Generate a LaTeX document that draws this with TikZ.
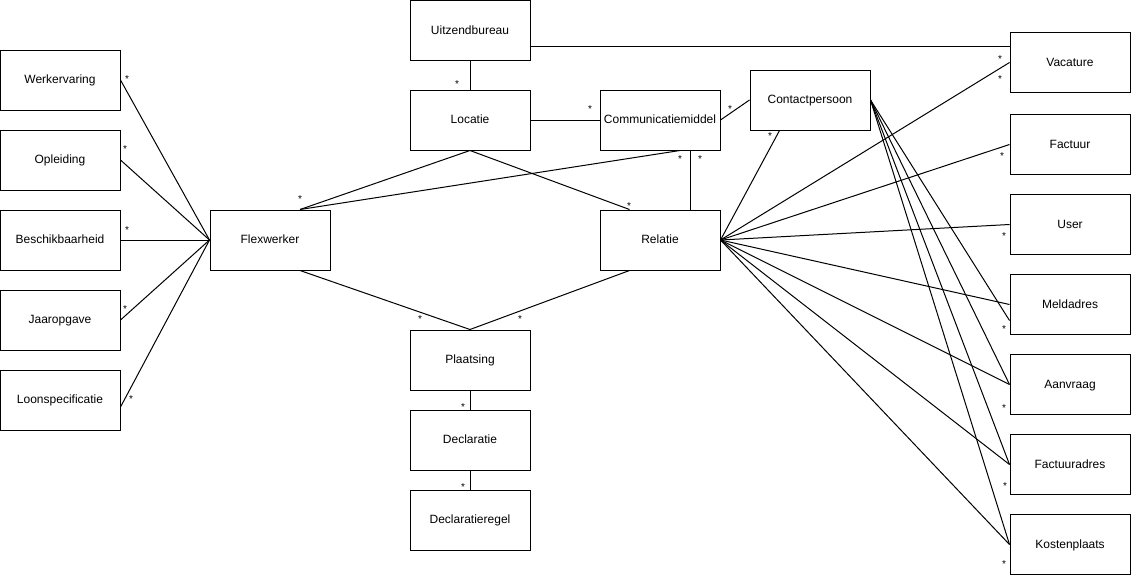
\documentclass[tikz,border=0pt]{standalone}
\usepackage{fontspec}
\setmainfont{Liberation Sans}
\usetikzlibrary{calc}
\begin{document}
\begin{tikzpicture}[x=1pt,y=-1pt,
  box/.style={draw, line width=1pt, minimum width=120pt, minimum height=60pt, inner sep=0pt, text height=10pt, text depth=2.8pt, font=\fontsize{12}{14}\selectfont},
  conn/.style={line width=1pt},
  mult/.style={font=\fontsize{10}{12}\selectfont, inner sep=0pt, yshift=-2pt}]
\useasboundingbox (0,0) rectangle (1131,576);
% left column
\node[box] (werk)  at (60,80)  {Werkervaring};
\node[box] (opl)   at (60,160) {Opleiding};
\node[box] (besch) at (60,240) {Beschikbaarheid};
\node[box] (jaar)  at (60,320) {Jaaropgave};
\node[box] (loon)  at (60,400) {Loonspecificatie};
\node[box] (flex)  at (270,240) {Flexwerker};
% middle
\node[box] (uitz)    at (470,30.5) {Uitzendbureau};
\node[box] (loc)     at (470,120) {Locatie};
\node[box] (comm)    at (660,120) {Communicatiemiddel};
\node[box] (contact) at (810,100) {Contactpersoon};
\node[box] (rel)     at (660,240) {Relatie};
\node[box] (plaats)  at (470,360) {Plaatsing};
\node[box] (decl)    at (470,440) {Declaratie};
\node[box] (declr)   at (470,520) {Declaratieregel};
% right column
\node[box] (vac)     at (1070,62.5)  {Vacature};
\node[box] (fact)    at (1070,144.5) {Factuur};
\node[box] (user)    at (1070,224.5) {User};
\node[box] (meld)    at (1070,304.5) {Meldadres};
\node[box] (aanv)    at (1070,384.5) {Aanvraag};
\node[box] (factadr) at (1070,464.5) {Factuuradres};
\node[box] (kost)    at (1070,544.5) {Kostenplaats};
% connectors: left
\draw[conn] (werk.east) -- (flex.west);
\draw[conn] (opl.east) -- (flex.west);
\draw[conn] (besch.east) -- (flex.west);
\draw[conn] (jaar.east) -- (flex.west);
\draw[conn] ($(loon.east)+(0,7)$) -- (flex.west);
% flexwerker
\coordinate (flextop) at ($(flex.north)+(30,0)$);
\draw[conn] (flextop) -- (loc.south);
\draw[conn] (flextop) -- ($(comm.south)+(20,0)$);
\draw[conn] ($(flex.south)+(30,0)$) -- (plaats.north);
% middle
\draw[conn] (uitz.south) -- (loc.north);
\draw[conn] (loc.east) -- (comm.west);
\draw[conn] (comm.east) -- (contact.west);
\draw[conn] (loc.south) -- ($(rel.north west)+(30,0)$);
\draw[conn] ($(comm.south)+(30,0)$) -- ($(rel.north)+(30,0)$);
\draw[conn] ($(rel.south west)+(30,0)$) -- (plaats.north);
\draw[conn] (plaats.south) -- (decl.north);
\draw[conn] (decl.south) -- (declr.north);
\draw[conn] ($(uitz.east)+(0,15.5)$) -- ($(vac.north west)+(0,14)$);
% relatie fan
\draw[conn] (rel.east) -- ($(contact.south west)+(30,0)$);
\draw[conn] (rel.east) -- (vac.west);
\draw[conn] (rel.east) -- (fact.west);
\draw[conn] (rel.east) -- (user.west);
\draw[conn] (rel.east) -- (meld.west);
\draw[conn] (rel.east) -- (aanv.west);
\draw[conn] (rel.east) -- (factadr.west);
\draw[conn] (rel.east) -- (kost.west);
% contactpersoon fan
\draw[conn] (contact.east) -- ($(meld.west)+(0,16)$);
\draw[conn] (contact.east) -- (aanv.west);
\draw[conn] (contact.east) -- (factadr.west);
\draw[conn] (contact.east) -- (kost.west);
% multiplicities
\node[mult] (m1)  at (127,77)   {*};
\node[mult] (m2)  at (125,147)  {*};
\node[mult] (m3)  at (127,228)  {*};
\node[mult] (m4)  at (125,307)  {*};
\node[mult] (m5)  at (131,397)  {*};
\node[mult] (m6)  at (300,197)  {*};
\node[mult] (m7)  at (457,82)   {*};
\node[mult] (m8)  at (590,107)  {*};
\node[mult] (m9)  at (730,107)  {*};
\node[mult] (m10) at (770,134)  {*};
\node[mult] (m11) at (680,157)  {*};
\node[mult] (m12) at (700,157)  {*};
\node[mult] (m13) at (629,204)  {*};
\node[mult] (m14) at (420,317)  {*};
\node[mult] (m15) at (520,317)  {*};
\node[mult] (m16) at (463,405)  {*};
\node[mult] (m17) at (463,485)  {*};
\node[mult] (m18) at (1000,57)  {*};
\node[mult] (m19) at (1000,77)  {*};
\node[mult] (m20) at (1002,154) {*};
\node[mult] (m21) at (1004,234) {*};
\node[mult] (m22) at (1004,327) {*};
\node[mult] (m23) at (1004,406) {*};
\node[mult] (m24) at (1005,484) {*};
\node[mult] (m25) at (1004,562) {*};
\end{tikzpicture}
\end{document}
